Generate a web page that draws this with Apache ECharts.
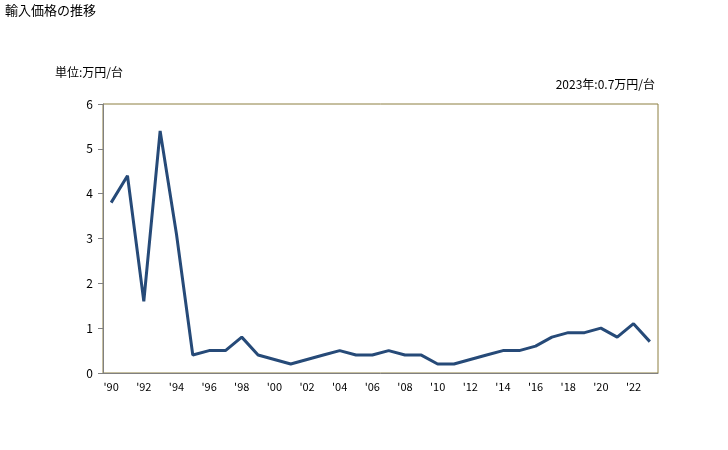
<!DOCTYPE html>
<html><head><meta charset="utf-8">
<script src="https://cdn.jsdelivr.net/npm/echarts@6/dist/echarts.min.js"></script>
<style>html,body{margin:0;padding:0;background:#fff}#c{width:728px;height:450px}</style>
</head><body><div id="c"></div>
<script>
const years = ['1990','1991','1992','1993','1994','1995','1996','1997','1998','1999','2000','2001','2002','2003','2004','2005','2006','2007','2008','2009','2010','2011','2012','2013','2014','2015','2016','2017','2018','2019','2020','2021','2022','2023'];
const prices = [3.8,4.4,1.6,5.4,3.1,0.4,0.5,0.5,0.8,0.4,0.3,0.2,0.3,0.4,0.5,0.4,0.4,0.5,0.4,0.4,0.2,0.2,0.3,0.4,0.5,0.5,0.6,0.8,0.9,0.9,1.0,0.8,1.1,0.7];
const titleText = '輸入価格の推移';
const unitText = '単位:万円/台';
const noteText = '2023年:0.7万円/台';
const font = '"Noto Sans CJK JP", sans-serif';
const chart = echarts.init(document.getElementById('c'));
chart.setOption({
  animation:false,
  textStyle:{fontFamily:font},
  title:[
    {text:titleText,left:5,top:4,padding:0,textStyle:{fontSize:13,fontWeight:'normal',color:'#000',fontFamily:font}},
    {text:unitText,left:55,top:66,padding:0,textStyle:{fontSize:12,fontWeight:'normal',color:'#000',fontFamily:font}},
    {text:noteText,right:73,top:78,padding:0,textStyle:{fontSize:12,fontWeight:'normal',color:'#000',fontFamily:font}}
  ],
  grid:{left:103,right:70,top:104,bottom:77,show:true,borderColor:'#8C7E40',borderWidth:1,backgroundColor:'transparent'},
  xAxis:{type:'category',data:years,boundaryGap:true,
    axisLine:{lineStyle:{color:'#808080'}},
    axisTick:{show:false},
    axisLabel:{interval:1,color:'#000',fontSize:11,margin:8,formatter:v=>"'"+v.slice(2)}},
  yAxis:{type:'value',min:0,max:6,interval:1,
    axisLine:{show:true,lineStyle:{color:'#808080'}},
    axisTick:{show:true,length:5,lineStyle:{color:'#808080'}},
    splitLine:{show:false},
    axisLabel:{color:'#000',fontSize:12,margin:10}},
  series:[{type:'line',data:prices,symbol:'none',lineStyle:{color:'#264A78',width:3},itemStyle:{color:'#264A78'}}]
});
</script></body></html>
